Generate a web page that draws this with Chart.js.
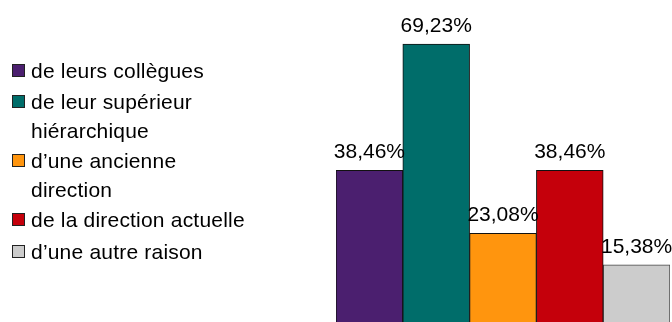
<!DOCTYPE html>
<html>
<head>
<meta charset="utf-8">
<script src="https://cdn.jsdelivr.net/npm/chart.js@4/dist/chart.umd.min.js"></script>
<style>
  html, body { margin: 0; padding: 0; background: #fff; overflow: hidden; width: 672px; height: 322px; }
  #wrap { position: relative; width: 672px; height: 322px; overflow: hidden; }
  #c { position: absolute; left: 0; top: 0; }
  #legend { position: absolute; left: 0; top: 0; font-family: "Liberation Sans", Arial, sans-serif;
            font-size: 21px; letter-spacing: 0.2px; color: #000; }
  .item { position: absolute; left: 12px; line-height: 29px; white-space: nowrap; }
  .box { position: absolute; left: 0; width: 11px; height: 11px; border: 1px solid #222; box-sizing: content-box; }
  .txt { position: absolute; left: 19px; top: 0; }
</style>
</head>
<body>
<div id="wrap">
  <canvas id="c" width="672" height="328"></canvas>
  <div id="legend"></div>
</div>
<script>
// Motifs de départ, part des réponses (%)
const categories = ["Motif"];
const seriesLabels = [
  "de leurs collègues",
  "de leur supérieur\nhiérarchique",
  "d’une ancienne\ndirection",
  "de la direction actuelle",
  "d’une autre raison"
];
const seriesValues = [38.46, 69.23, 23.08, 38.46, 15.38];
const seriesColors = ["#4b1f6f", "#006d6a", "#ff950e", "#c5000b", "#cccccc"];
const legendTops = [56, 87, 146, 205, 237];

const fmt = v => v.toFixed(2).replace(".", ",") + "%";

// Value labels above each bar
const valueLabels = {
  id: "valueLabels",
  afterDatasetsDraw(chart) {
    const ctx = chart.ctx;
    ctx.save();
    ctx.font = "21px 'Liberation Sans', Arial, sans-serif";
    ctx.fillStyle = "#000";
    ctx.textAlign = "center";
    ctx.textBaseline = "alphabetic";
    chart.data.datasets.forEach((ds, i) => {
      const meta = chart.getDatasetMeta(i);
      meta.data.forEach((bar, j) => {
        ctx.fillText(fmt(ds.data[j]), bar.x, bar.y - 12);
      });
    });
    ctx.restore();
  }
};

new Chart(document.getElementById("c"), {
  type: "bar",
  data: {
    labels: categories,
    datasets: seriesLabels.map((label, i) => ({
      label: label.replace("\n", " "),
      data: [seriesValues[i]],
      backgroundColor: seriesColors[i],
      borderColor: i === 4 ? "#444" : "#111",
      borderWidth: 1,
      borderSkipped: false,
      categoryPercentage: 1,
      barPercentage: 1
    }))
  },
  options: {
    responsive: false,
    animation: false,
    layout: { padding: { left: 336, right: 2, top: 0, bottom: 0 } },
    plugins: { legend: { display: false }, tooltip: { enabled: false } },
    scales: {
      x: { display: false, grid: { display: false } },
      y: { display: false, min: 0, max: 80, grid: { display: false } }
    }
  },
  plugins: [valueLabels]
});

// Legend at left
const legend = document.getElementById("legend");
seriesLabels.forEach((label, i) => {
  const item = document.createElement("div");
  item.className = "item";
  item.style.top = legendTops[i] + "px";
  const box = document.createElement("div");
  box.className = "box";
  box.style.top = "8px";
  box.style.background = seriesColors[i];
  const txt = document.createElement("div");
  txt.className = "txt";
  txt.innerText = label;
  item.appendChild(box);
  item.appendChild(txt);
  legend.appendChild(item);
});
</script>
</body>
</html>
